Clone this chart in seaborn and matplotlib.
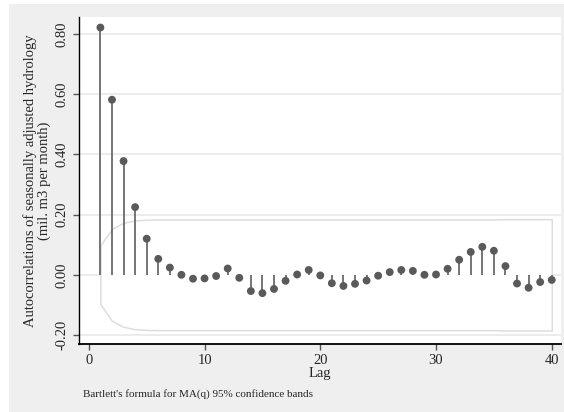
import matplotlib
matplotlib.use("Agg")
import matplotlib.pyplot as plt
import matplotlib.patches as patches
import seaborn as sns
import pandas as pd

lags = list(range(1, 41))
acf = [0.822, 0.582, 0.378, 0.225, 0.120, 0.053, 0.024, 0.000, -0.013, -0.012,
       -0.004, 0.021, -0.010, -0.054, -0.061, -0.047, -0.020, 0.001, 0.016, -0.002,
       -0.028, -0.037, -0.030, -0.019, -0.003, 0.009, 0.016, 0.013, 0.000, 0.001,
       0.020, 0.050, 0.076, 0.093, 0.080, 0.029, -0.029, -0.043, -0.024, -0.017]
band = [0.098, 0.153, 0.173, 0.181, 0.183, 0.184, 0.184, 0.184, 0.184, 0.184,
        0.184, 0.184, 0.184, 0.184, 0.184, 0.184, 0.184, 0.184, 0.184, 0.184,
        0.184, 0.184, 0.184, 0.184, 0.184, 0.184, 0.184, 0.184, 0.184, 0.184,
        0.184, 0.184, 0.184, 0.184, 0.184, 0.185, 0.185, 0.185, 0.185, 0.185]
yticks = [-0.2, 0.0, 0.2, 0.4, 0.6, 0.8]
xticks = [0, 10, 20, 30, 40]

df = pd.DataFrame({"lag": lags, "acf": acf, "band": band})

sns.set_style("white")
plt.rcParams["font.family"] = ["Liberation Serif", "DejaVu Serif"]

fig = plt.figure(figsize=(5.64, 4.12), dpi=100)
fig.patch.set_facecolor("white")
fig.patches.append(patches.Rectangle((9 / 564, 0), 1, 1 - 4 / 412, transform=fig.transFigure,
                                     facecolor="#efefef", edgecolor="none", zorder=-10))
ax = fig.add_axes([79 / 564, 1 - 344 / 412, (561 - 79) / 564, (344 - 17) / 412])
ax.set_facecolor("white")

# confidence band outline
ax.fill_between(df["lag"], -df["band"], df["band"], facecolor="white",
                edgecolor="#dddddd", linewidth=1.1, zorder=1)

for y in yticks:
    ax.axhline(y, color="#eaeaea", linewidth=1.3, zorder=0.5)

ax.vlines(df["lag"], 0, df["acf"], color="#6a6a6a", linewidth=1.3, zorder=2)
sns.scatterplot(data=df, x="lag", y="acf", ax=ax, color="#5a5a5a", s=32,
                edgecolor="none", zorder=3)

ax.set_xlim(-0.85, 40.8)
ax.set_ylim(-0.23, 0.857)
ax.set_yticks(yticks)
ax.set_yticklabels([f"{v:.2f}" for v in yticks], rotation=90, va="center")
ax.set_xticks(xticks)
ax.tick_params(axis="both", direction="out", length=4.5, width=1, color="#555555",
               labelsize=10.5, pad=3, left=True, bottom=True)

for s in ["top", "right"]:
    ax.spines[s].set_visible(False)
ax.spines["left"].set_color("black")
ax.spines["left"].set_linewidth(1.0)
ax.spines["bottom"].set_color("black")
ax.spines["bottom"].set_linewidth(1.3)

ax.set_xlabel("Lag", fontsize=10.5, labelpad=0)
ax.set_ylabel("Autocorrelations of seasonally adjusted hydrology\n(mil. m3 per month)",
              fontsize=10.5, labelpad=3, linespacing=1.05)

fig.text(83 / 564, 1 - 394 / 412, "Bartlett's formula for MA(q) 95% confidence bands",
         fontsize=8, va="center", ha="left")

fig.savefig("out.png", dpi=100)
plt.close()
